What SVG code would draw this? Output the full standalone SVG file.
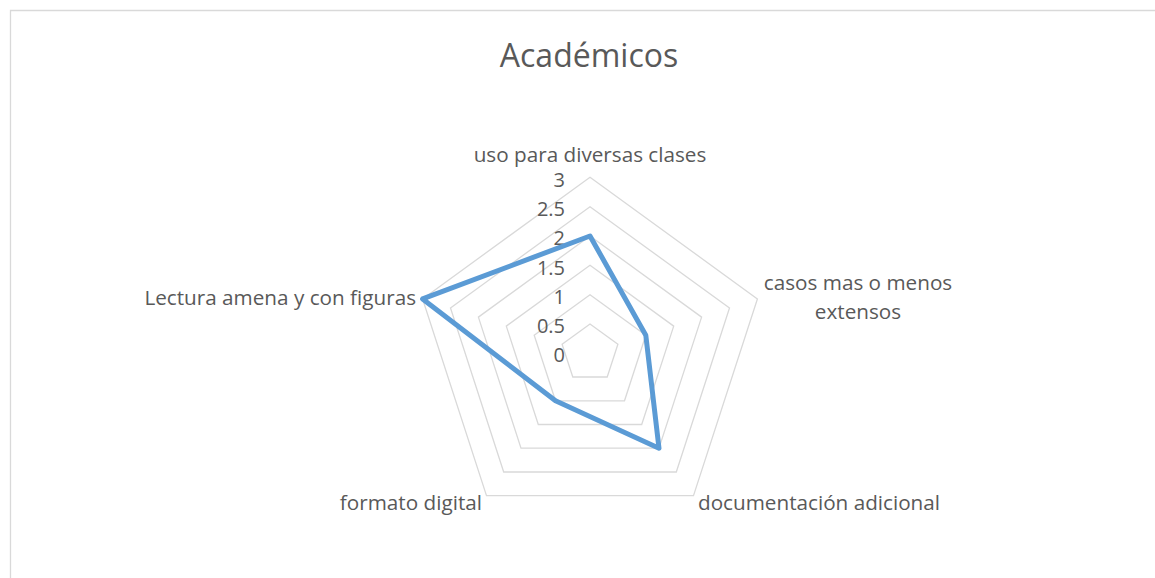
<svg xmlns="http://www.w3.org/2000/svg" width="1155" height="578" viewBox="0 0 1155 578">
<style>
.t{font-family:"Open Sans","Liberation Sans",sans-serif;fill:#595959}
.lab{font-size:20.7px}
.tick{font-size:20px;text-anchor:end}
.grid{fill:none;stroke:#d9d9d9;stroke-width:1.3}
.data{fill:none;stroke:#5b9bd5;stroke-width:5;stroke-linejoin:round}
</style>
<rect x="0" y="0" width="1155" height="578" fill="#ffffff"/>
<path d="M10.5,578 V10.5 H1155" fill="none" stroke="#d9d9d9" stroke-width="1.3"/>
<g id="title"><text class="t" x="589" y="67" font-size="32" text-anchor="middle">Académicos</text></g>
<g id="grid">
<polygon class="grid" points="590,324 617.9,344.2 607.2,377 572.8,377 562.1,344.2"/>
<polygon class="grid" points="590,294.7 645.8,335.2 624.5,400.8 555.5,400.8 534.2,335.2"/>
<polygon class="grid" points="590,265.3 673.7,326.1 641.7,424.5 538.3,424.5 506.3,326.1"/>
<polygon class="grid" points="590,236 701.6,317.1 659,448.2 521,448.2 478.4,317.1"/>
<polygon class="grid" points="590,206.7 729.5,308 676.3,472 503.7,472 450.5,308"/>
<polygon class="grid" points="590,177.3 757.4,298.9 693.5,495.7 486.5,495.7 422.6,298.9"/>
</g>
<g id="ticks">
<text class="t tick" x="565" y="187">3</text>
<text class="t tick" x="565" y="216">2.5</text>
<text class="t tick" x="565" y="245">2</text>
<text class="t tick" x="565" y="275">1.5</text>
<text class="t tick" x="565" y="304">1</text>
<text class="t tick" x="565" y="333">0.5</text>
<text class="t tick" x="565" y="362">0</text>
</g>
<g id="connectors">
<polygon class="data" points="590,236 645.8,335.2 659,448.2 555.5,400.8 422.6,298.9"/>
</g>
<g id="node-uso"><text class="t lab" x="590" y="162" text-anchor="middle">uso para diversas clases</text></g>
<g id="node-casos"><text class="t lab" text-anchor="middle"><tspan x="858" y="290">casos mas o menos</tspan><tspan x="858" y="319">extensos</tspan></text></g>
<g id="node-doc"><text class="t lab" x="698" y="510">documentación adicional</text></g>
<g id="node-formato"><text class="t lab" x="482" y="510" text-anchor="end">formato digital</text></g>
<g id="node-lectura"><text class="t lab" x="416" y="305" text-anchor="end">Lectura amena y con figuras</text></g>
</svg>
